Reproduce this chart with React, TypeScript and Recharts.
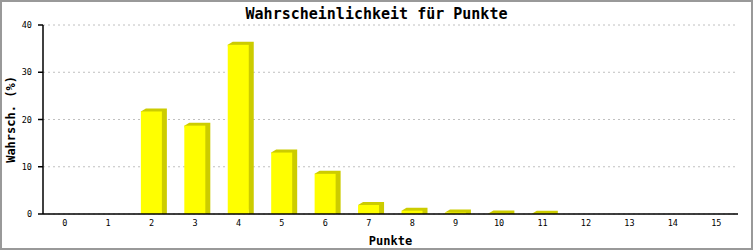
import React from 'react';
import { BarChart, Bar, XAxis, YAxis, CartesianGrid } from 'recharts';

const categories = ['0', '1', '2', '3', '4', '5', '6', '7', '8', '9', '10', '11', '12', '13', '14', '15'];
const values = [0, 0, 21.7, 18.7, 35.8, 13.0, 8.5, 1.9, 0.7, 0.3, 0.1, 0.05, 0, 0, 0, 0];
const yTicks = [0, 10, 20, 30, 40];

const data = categories.map((c, i) => ({ name: c, value: values[i] }));

const MONO = '"DejaVu Sans Mono", "Liberation Mono", monospace';

const ShadowBar = (props: any) => {
  const { x, y, width, height, value } = props;
  if (!value || value <= 0) return null;
  const dx = 5;
  const dy = 3;
  const bottom = y + height;
  const pts = [
    [x, y],
    [x + dx, y - dy],
    [x + width + dx, y - dy],
    [x + width + dx, bottom],
    [x + width, bottom],
  ]
    .map((p) => p.join(','))
    .join(' ');
  return (
    <g>
      <polygon points={pts} fill="#cccc00" />
      <rect x={x} y={y} width={width} height={Math.max(height, 0)} fill="#ffff00" />
    </g>
  );
};

export default function App() {
  return (
    <div style={{ position: 'absolute', left: 0, top: 0, width: 753, height: 250, background: '#fff' }}>
      <BarChart
        width={753}
        height={250}
        data={data}
        margin={{ top: 25, right: 15, bottom: 0, left: 0 }}
        barCategoryGap={0}
      >
        <CartesianGrid yAxisId="left" horizontal vertical={false} stroke="#c0c0c0" strokeDasharray="2 3" />
        <XAxis
          dataKey="name"
          height={36}
          interval={0}
          tickLine={false}
          tickSize={4}
          tickMargin={2}
          axisLine={{ stroke: '#000', strokeWidth: 1.5 }}
          tick={{ fill: '#000', fontSize: 8.5, fontFamily: MONO }}
          label={{
            value: 'Punkte',
            position: 'insideBottom',
            offset: 5,
            style: { fill: '#000', fontSize: 12, fontWeight: 'bold', fontFamily: MONO },
          }}
        />
        <YAxis
          yAxisId="left"
          width={43}
          domain={[0, 40]}
          ticks={yTicks}
          tickSize={5}
          tickMargin={6}
          tickLine={{ stroke: '#000', strokeWidth: 1.5 }}
          axisLine={{ stroke: '#000', strokeWidth: 1.5 }}
          tick={{ fill: '#000', fontSize: 8.5, fontFamily: MONO }}
          label={{
            value: 'Wahrsch. (%)',
            angle: -90,
            position: 'insideLeft',
            offset: 11,
            style: { fill: '#000', fontSize: 12, fontWeight: 'bold', fontFamily: MONO, textAnchor: 'middle' },
          }}
        />
        <YAxis
          yAxisId="right"
          orientation="right"
          width={0}
          domain={[0, 40]}
          tick={false}
          tickLine={false}
          axisLine={{ stroke: '#000', strokeWidth: 1.5 }}
        />
        <Bar
          yAxisId="left"
          dataKey="value"
          barSize={21}
          shape={ShadowBar}
          isAnimationActive={false}
        />
      </BarChart>
      <div
        style={{
          position: 'absolute',
          left: 0,
          top: 5,
          width: 753,
          textAlign: 'center',
          fontFamily: MONO,
          fontWeight: 'bold',
          fontSize: 15,
          lineHeight: '18px',
          color: '#000',
        }}
      >
        Wahrscheinlichkeit für Punkte
      </div>
      <div
        style={{
          position: 'absolute',
          left: 0,
          top: 0,
          width: 753,
          height: 250,
          boxSizing: 'border-box',
          border: '2px solid #999',
          pointerEvents: 'none',
        }}
      />
    </div>
  );
}
